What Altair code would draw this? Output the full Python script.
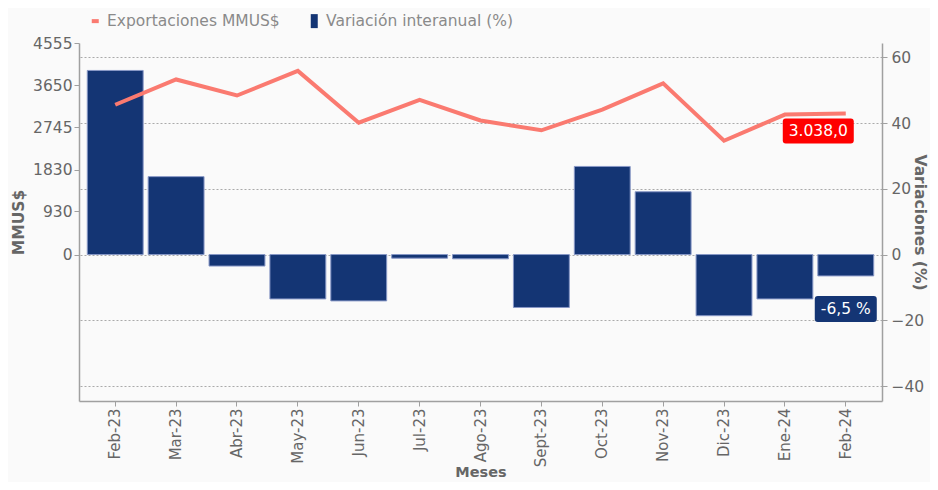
import altair as alt
import pandas as pd

meses = ["Feb-23", "Mar-23", "Abr-23", "May-23", "Jun-23", "Jul-23", "Ago-23",
         "Sept-23", "Oct-23", "Nov-23", "Dic-23", "Ene-24", "Feb-24"]
exportaciones = [3226, 3770, 3425, 3954, 2838, 3332, 2887, 2675, 3120, 3685, 2451, 3014, 3038.0]
variacion = [56.0, 23.7, -3.5, -13.5, -14.1, -1.1, -1.3, -16.1, 26.8, 19.1, -18.6, -13.5, -6.5]
series = ["Exportaciones MMUS$", "Variación interanual (%)"]
left_ticks = [0, 930, 1830, 2745, 3650, 4555]
right_ticks = [-40, -20, 0, 20, 40, 60]
left_domain = [-3153, 4555]
right_domain = [-44.55, 64.35]

BLUE = "#143574"
SALMON = "#fa7a70"
RED = "#ff0000"
FONT = "DejaVu Sans"

df = pd.DataFrame({"mes": meses, "exp": exportaciones, "var": variacion})


def es_num(v, dec=1):
    s = f"{v:,.{dec}f}"
    return s.replace(",", "#").replace(".", ",").replace("#", ".")


last = df.iloc[[-1]].copy()
last["exp_lbl"] = es_num(last["exp"].iloc[0])
last["var_lbl"] = es_num(last["var"].iloc[0]) + " %"

x_enc = alt.X(
    "mes:N", sort=meses,
    scale=alt.Scale(paddingInner=0.082, paddingOuter=0.136),
    axis=alt.Axis(title="Meses", labelAngle=-90, labelAlign="right", labelBaseline="middle",
                  labelPadding=2, tickSize=5, titlePadding=-1, titleFontSize=14.5,
                  labelFontSize=15),
)

y_right = alt.Y(
    "var:Q", scale=alt.Scale(domain=right_domain, nice=False, zero=False),
    axis=alt.Axis(orient="right", values=right_ticks, format="d", title="Variaciones (%)",
                  grid=True, gridDash=[2, 2], gridColor="#aaaaaa", gridWidth=1,
                  labelPadding=4, tickSize=5, titlePadding=-12),
)
y_left = alt.Y(
    "exp:Q", scale=alt.Scale(domain=left_domain, nice=False, zero=False),
    axis=alt.Axis(orient="left", values=left_ticks, format="d", title="MMUS$",
                  grid=False, labelPadding=2, tickSize=5, titlePadding=6),
)

bars = alt.Chart(df).mark_bar(color=BLUE, stroke="#8797c6", strokeWidth=1).encode(x=x_enc, y=y_right)

blue_box_path = "M-28,20 H28 Q31,20 31,23 V43 Q31,46 28,46 H-28 Q-31,46 -31,43 V23 Q-31,20 -28,20 Z"
blue_box = alt.Chart(last).mark_point(shape=blue_box_path, size=4, filled=True, fill=BLUE,
                                      opacity=1, strokeWidth=0).encode(x=x_enc, y=y_right)
blue_text = alt.Chart(last).mark_text(color="white", fontSize=15.5, font=FONT, align="center",
                                      baseline="middle", dy=33).encode(
    x=x_enc, y=y_right, text="var_lbl:N")

right_group = alt.layer(bars, blue_box, blue_text)

line = alt.Chart(df).mark_line(color=SALMON, strokeWidth=4).encode(x=x_enc, y=y_left)

red_box_path = "M-60,5 H5 Q8,5 8,8 V27 Q8,30 5,30 H-60 Q-63,30 -63,27 V8 Q-63,5 -60,5 Z"
red_box = alt.Chart(last).mark_point(shape=red_box_path, size=4, filled=True, fill=RED,
                                     opacity=1, strokeWidth=0).encode(x=x_enc, y=y_left)
red_text = alt.Chart(last).mark_text(color="white", fontSize=15.5, font=FONT, align="center",
                                     baseline="middle", dx=-27.5, dy=17.5).encode(
    x=x_enc, y=y_left, text="exp_lbl:N")

left_group = alt.layer(line, red_box, red_text)

red_sym = "M-0.5,-0.286 H0.5 V0.286 H-0.5 Z"
blue_sym = "M-0.5,-1 H0.5 V1 H-0.5 Z"
leg = alt.Legend(title=None, orient="none", legendX=8.5, legendY=-30,
                 direction="horizontal", columns=2, labelLimit=0)
legend_layer = alt.Chart(df).transform_calculate(serie="'x'").transform_filter("false").mark_point(
    filled=True, opacity=1, size=196, strokeWidth=0).encode(
    color=alt.Color("serie:N", scale=alt.Scale(domain=series, range=[SALMON, BLUE]), legend=leg),
    shape=alt.Shape("serie:N", scale=alt.Scale(domain=series, range=[red_sym, blue_sym]), legend=leg),
)

chart = alt.layer(right_group, left_group, legend_layer).resolve_scale(
    y="independent"
).properties(
    width=803, height=358, background="#fafafa",
    padding={"left": 71, "top": 35, "right": 48, "bottom": 81},
    autosize=alt.AutoSizeParams(type="none"),
).configure_view(stroke=None).configure_axis(
    labelFont=FONT, titleFont=FONT, labelFontSize=15.5, titleFontSize=15.5,
    labelColor="#666666", titleColor="#666666", titleFontWeight="bold",
    domainColor="#a0a0a0", domainWidth=1.5, tickColor="#a0a0a0",
).configure_legend(
    labelFont=FONT, labelFontSize=15.5, labelColor="#8a8a8a", symbolStrokeWidth=0,
    symbolOpacity=1, labelOffset=4, columnPadding=26, symbolSize=196, labelLimit=0,
)

chart.save("out.html", embed_options={"renderer": "svg", "actions": False})
